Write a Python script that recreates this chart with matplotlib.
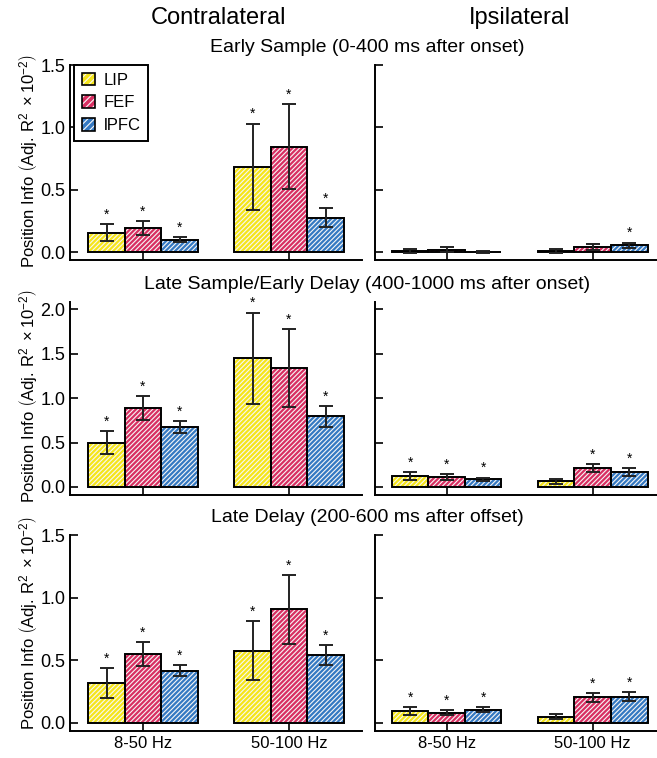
import matplotlib
matplotlib.use("Agg")
import matplotlib.pyplot as plt
from matplotlib.patches import Patch
import numpy as np

plt.rcParams['font.family'] = ['Liberation Sans', 'DejaVu Sans']
plt.rcParams['mathtext.fontset'] = 'custom'
plt.rcParams['mathtext.rm'] = 'Liberation Sans'
plt.rcParams['mathtext.it'] = 'Liberation Sans:italic'
plt.rcParams['hatch.linewidth'] = 0.8

areas = ["LIP", "FEF", "lPFC"]
bands = ["8-50 Hz", "50-100 Hz"]
colors = ["#f5e51c", "#d82f62", "#3579c2"]
titles = ["Early Sample (0-400 ms after onset)",
          "Late Sample/Early Delay (400-1000 ms after onset)",
          "Late Delay (200-600 ms after offset)"]

# values[area][band]
early_contra = [[0.155, 0.685], [0.19, 0.845], [0.10, 0.275]]
early_contra_err = [[0.067, 0.345], [0.055, 0.34], [0.02, 0.075]]
early_ipsi = [[0.008, 0.008], [0.02, 0.04], [-0.003, 0.056]]
early_ipsi_err = [[0.015, 0.015], [0.018, 0.025], [0.008, 0.02]]
early_contra_sig = [[1, 1], [1, 1], [1, 1]]
early_ipsi_sig = [[0, 0], [0, 0], [0, 1]]

mid_contra = [[0.498, 1.446], [0.888, 1.34], [0.674, 0.794]]
mid_contra_err = [[0.13, 0.515], [0.13, 0.44], [0.07, 0.12]]
mid_ipsi = [[0.124, 0.064], [0.112, 0.217], [0.086, 0.168]]
mid_ipsi_err = [[0.047, 0.025], [0.03, 0.045], [0.02, 0.043]]
mid_contra_sig = [[1, 1], [1, 1], [1, 1]]
mid_ipsi_sig = [[1, 0], [1, 1], [1, 1]]

late_contra = [[0.32, 0.578], [0.55, 0.906], [0.416, 0.544]]
late_contra_err = [[0.12, 0.235], [0.097, 0.275], [0.044, 0.079]]
late_ipsi = [[0.096, 0.048], [0.083, 0.205], [0.107, 0.21]]
late_ipsi_err = [[0.034, 0.02], [0.02, 0.035], [0.018, 0.036]]
late_contra_sig = [[1, 1], [1, 1], [1, 1]]
late_ipsi_sig = [[1, 0], [1, 1], [1, 1]]

rows = [
    (early_contra, early_contra_err, early_contra_sig, early_ipsi, early_ipsi_err, early_ipsi_sig),
    (mid_contra, mid_contra_err, mid_contra_sig, mid_ipsi, mid_ipsi_err, mid_ipsi_sig),
    (late_contra, late_contra_err, late_contra_sig, late_ipsi, late_ipsi_err, late_ipsi_sig),
]
ylims = [(-0.064, 1.5), (-0.09, 2.08), (-0.064, 1.5)]
yticks = [[0, 0.5, 1.0, 1.5], [0, 0.5, 1.0, 1.5, 2.0], [0, 0.5, 1.0, 1.5]]
ylabel_y = [0.508, 0.513, 0.551]

W, H = 657, 758
fig = plt.figure(figsize=(W / 100, H / 100), dpi=100)

def fx(px):
    return px / W

def fy(top, bottom):
    return (H - bottom) / H, (bottom - top) / H

row_pix = [(65, 260), (302, 495), (535, 731)]
left_pix = (70, 362)
right_pix = (375, 657)

width = 0.25
xg = np.arange(len(bands))
HATCH = '///////'

def draw(ax, vals, errs, sigs, ylim):
    span = ylim[1] - ylim[0]
    for i in range(len(areas)):
        xs = xg + (i - 1) * width
        ax.bar(xs, vals[i], width, color=colors[i], edgecolor='#f7f7f7',
               hatch=HATCH, linewidth=0, zorder=2)
        ax.bar(xs, vals[i], width, fill=False, edgecolor='black',
               linewidth=1.4, zorder=3)
        ax.errorbar(xs, vals[i], yerr=errs[i], fmt='none', ecolor='#222222',
                    elinewidth=1.4, capsize=5, capthick=1.4, zorder=4)
        for j in range(len(bands)):
            if sigs[i][j]:
                ax.text(xs[j], vals[i][j] + errs[i][j] + 0.012 * span, '*',
                        ha='center', va='bottom', fontsize=10, zorder=5)
    ax.set_ylim(*ylim)
    for s in ['top', 'right']:
        ax.spines[s].set_visible(False)
    for s in ['left', 'bottom']:
        ax.spines[s].set_linewidth(1.4)
    ax.tick_params(direction='in', length=6, width=1.2, labelsize=12)
    ax.tick_params(axis='y', labelsize=13)
    ax.set_xticks(xg)

for r, (cv, ce, cs, iv, ie, isg) in enumerate(rows):
    top, bottom = row_pix[r]
    b, h = fy(top, bottom)
    axl = fig.add_axes([fx(left_pix[0]), b, fx(left_pix[1] - left_pix[0]), h])
    axr = fig.add_axes([fx(right_pix[0]), b, fx(right_pix[1] - right_pix[0]), h])
    draw(axl, cv, ce, cs, ylims[r])
    draw(axr, iv, ie, isg, ylims[r])
    axl.set_xlim(-0.5, 1.5)
    axr.set_xlim(-0.49, 1.44)
    axl.set_yticks(yticks[r])
    axl.set_yticklabels([f"{t:.1f}" for t in yticks[r]])
    axr.set_yticks(yticks[r])
    axr.set_yticklabels([])
    if r == 2:
        axl.set_xticklabels(bands)
        axr.set_xticklabels(bands)
    else:
        axl.set_xticklabels([])
        axr.set_xticklabels([])
    axl.set_ylabel(r"Position Info $\left(\mathrm{Adj.\,R^{2}\ \times 10^{-2}}\right)$",
                   fontsize=12)
    axl.yaxis.set_label_coords(-0.103, ylabel_y[r])
    fig.text(fx(367), 1 - (top - 17) / H, titles[r], ha='center', va='center',
             fontsize=14)
    if r == 0:
        handles = [(Patch(facecolor=c, edgecolor='#f7f7f7', hatch='/////', linewidth=0),
                    Patch(fill=False, edgecolor='black', linewidth=1.2)) for c in colors]
        leg = axl.legend(handles, areas, loc='upper left', bbox_to_anchor=(0.015, 1.0),
                         fontsize=12, frameon=True, fancybox=False, edgecolor='black',
                         handlelength=0.8, handleheight=0.8, handletextpad=0.5,
                         borderpad=0.45, labelspacing=0.45, borderaxespad=0.0)
        leg.get_frame().set_linewidth(1.4)
        leg.get_frame().set_alpha(1)

fig.text(fx(218), 1 - 18 / H, "Contralateral", ha='center', va='center', fontsize=17)
fig.text(fx(520), 1 - 18 / H, "Ipsilateral", ha='center', va='center', fontsize=17)

fig.savefig("out.png", dpi=100)
